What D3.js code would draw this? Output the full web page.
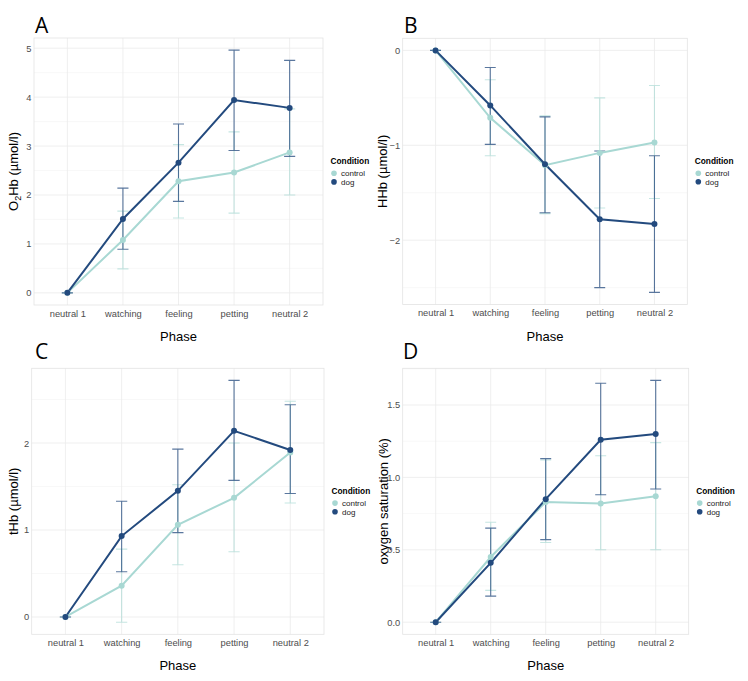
<!DOCTYPE html>
<html>
<head>
<meta charset="utf-8">
<script src="https://cdn.jsdelivr.net/npm/d3@7/dist/d3.min.js"></script>
<style>
  html, body { margin: 0; padding: 0; background: #fff; }
  svg { display: block; }
</style>
</head>
<body>
<svg id="chart" width="748" height="681"></svg>
<script>
// ---------- DATA ----------
const phases = ["neutral 1", "watching", "feeling", "petting", "neutral 2"];
const conditions = ["control", "dog"];

// Panel A: O2Hb
const aControlMean = [0, 1.08, 2.28, 2.46, 2.87];
const aControlLo   = [0, 0.49, 1.53, 1.63, 2.00];
const aControlHi   = [0, 1.67, 3.03, 3.29, 3.76];
const aDogMean     = [0, 1.51, 2.66, 3.94, 3.78];
const aDogLo       = [0, 0.89, 1.87, 2.91, 2.79];
const aDogHi       = [0, 2.14, 3.45, 4.96, 4.75];
const aTicks = [0, 1, 2, 3, 4, 5];

// Panel B: HHb
const bControlMean = [0, -0.71, -1.21, -1.08, -0.97];
const bControlLo   = [0, -1.11, -1.72, -1.66, -1.56];
const bControlHi   = [0, -0.31, -0.69, -0.50, -0.37];
const bDogMean     = [0, -0.58, -1.20, -1.78, -1.83];
const bDogLo       = [0, -0.99, -1.71, -2.50, -2.55];
const bDogHi       = [0, -0.18, -0.70, -1.06, -1.11];
const bTicks = [-2, -1, 0];

// Panel C: tHb
const cControlMean = [0, 0.36, 1.06, 1.37, 1.89];
const cControlLo   = [0, -0.06, 0.60, 0.75, 1.31];
const cControlHi   = [0, 0.78, 1.52, 2.00, 2.48];
const cDogMean     = [0, 0.93, 1.45, 2.14, 1.92];
const cDogLo       = [0, 0.52, 0.97, 1.57, 1.42];
const cDogHi       = [0, 1.33, 1.93, 2.72, 2.44];
const cTicks = [0, 1, 2];

// Panel D: oxygen saturation
const dControlMean = [0, 0.45, 0.83, 0.82, 0.87];
const dControlLo   = [0, 0.22, 0.55, 0.50, 0.50];
const dControlHi   = [0, 0.69, 1.12, 1.15, 1.24];
const dDogMean     = [0, 0.41, 0.85, 1.26, 1.30];
const dDogLo       = [0, 0.18, 0.57, 0.88, 0.92];
const dDogHi       = [0, 0.65, 1.13, 1.65, 1.67];
const dTicks = [0, 0.5, 1.0, 1.5];

// ---------- STYLE ----------
const colors = { control: "#a8d8d3", dog: "#234a7e" };
const FONT = "'Liberation Sans', Arial, Helvetica, sans-serif";

const panels = [
  { letter: "A", x0: 34, x1: 323, y0: 38, y1: 305, ytitle: "O2Hb", ticks: aTicks, fmt: d3.format("d"),
    series: { control: [aControlMean, aControlLo, aControlHi], dog: [aDogMean, aDogLo, aDogHi] },
    letterX: 35, letterY: 33, ytX: 17.5, xtY: 341 },
  { letter: "B", x0: 402.7, x1: 687.3, y0: 38.3, y1: 304.5, ytitle: "HHb (µmol/l)", ticks: bTicks, fmt: d3.format("d"),
    series: { control: [bControlMean, bControlLo, bControlHi], dog: [bDogMean, bDogLo, bDogHi] },
    letterX: 404, letterY: 33, ytX: 387, xtY: 341 },
  { letter: "C", x0: 31.7, x1: 324, y0: 368.3, y1: 634.3, ytitle: "tHb (µmol/l)", ticks: cTicks, fmt: d3.format("d"),
    series: { control: [cControlMean, cControlLo, cControlHi], dog: [cDogMean, cDogLo, cDogHi] },
    letterX: 35, letterY: 358.5, ytX: 17.5, xtY: 670 },
  { letter: "D", x0: 402.7, x1: 688.7, y0: 368.3, y1: 634.3, ytitle: "oxygen saturation (%)", ticks: dTicks, fmt: d3.format(".1f"),
    series: { control: [dControlMean, dControlLo, dControlHi], dog: [dDogMean, dDogLo, dDogHi] },
    letterX: 403, letterY: 358.5, ytX: 388, xtY: 670 }
];

const svg = d3.select("#chart");
svg.append("rect").attr("width", 748).attr("height", 681).attr("fill", "#fff");

panels.forEach(p => {
  const g = svg.append("g");

  // scales
  const x = d3.scalePoint().domain(phases).range([p.x0, p.x1]).padding(0.6);
  const allVals = [].concat(...conditions.map(c => p.series[c][1].concat(p.series[c][2])));
  const ext = d3.extent(allVals);
  const pad = (ext[1] - ext[0]) * 0.05;
  const y = d3.scaleLinear().domain([ext[0] - pad, ext[1] + pad]).range([p.y1, p.y0]);

  // minor grid
  const step = p.ticks[1] - p.ticks[0];
  const minor = [];
  for (let v = p.ticks[0] - step / 2; v <= ext[1] + pad; v += step) {
    if (v >= ext[0] - pad) minor.push(v);
  }
  g.selectAll(".minor").data(minor).join("line")
    .attr("x1", p.x0).attr("x2", p.x1)
    .attr("y1", d => y(d)).attr("y2", d => y(d))
    .attr("stroke", "#f4f4f4").attr("stroke-width", 0.6);

  // major grid
  g.selectAll(".hmajor").data(p.ticks).join("line")
    .attr("x1", p.x0).attr("x2", p.x1)
    .attr("y1", d => y(d)).attr("y2", d => y(d))
    .attr("stroke", "#ebebeb").attr("stroke-width", 0.8);
  g.selectAll(".vmajor").data(phases).join("line")
    .attr("x1", d => x(d)).attr("x2", d => x(d))
    .attr("y1", p.y0).attr("y2", p.y1)
    .attr("stroke", "#ebebeb").attr("stroke-width", 0.8);

  // border
  g.append("rect").attr("x", p.x0).attr("y", p.y0)
    .attr("width", p.x1 - p.x0).attr("height", p.y1 - p.y0)
    .attr("fill", "none").attr("stroke", "#e3e3e3").attr("stroke-width", 0.8);

  // axes (labels only)
  const yAxis = d3.axisLeft(y).tickValues(p.ticks).tickFormat(p.fmt).tickSize(0).tickPadding(2.5);
  const ya = g.append("g").attr("transform", `translate(${p.x0},0)`).call(yAxis);
  ya.select(".domain").remove();
  ya.selectAll("text").attr("fill", "#4d4d4d").style("font-family", FONT).style("font-size", "9.3px");

  const xAxis = d3.axisBottom(x).tickSize(0).tickPadding(5);
  const xa = g.append("g").attr("transform", `translate(0,${p.y1})`).call(xAxis);
  xa.select(".domain").remove();
  xa.selectAll("text").attr("fill", "#4d4d4d").style("font-family", FONT).style("font-size", "9.3px");

  // error bars
  const capHalf = x.step() * 0.1;
  conditions.forEach(c => {
    const [m, lo, hi] = p.series[c];
    const eg = g.append("g").attr("stroke", colors[c])
      .attr("stroke-opacity", c === "dog" ? 0.75 : 0.65).attr("stroke-width", 1.1).attr("fill", "none");
    phases.forEach((ph, i) => {
      const cx = x(ph);
      eg.append("path").attr("d",
        `M${cx - capHalf},${y(hi[i])}H${cx + capHalf}M${cx},${y(hi[i])}V${y(lo[i])}M${cx - capHalf},${y(lo[i])}H${cx + capHalf}`);
    });
  });

  // lines
  const line = d3.line().x((d, i) => x(phases[i])).y(d => y(d));
  conditions.forEach(c => {
    g.append("path").datum(p.series[c][0]).attr("d", line)
      .attr("fill", "none").attr("stroke", colors[c]).attr("stroke-width", 2);
  });
  // points
  conditions.forEach(c => {
    g.selectAll(".pt-" + c).data(p.series[c][0]).join("circle")
      .attr("cx", (d, i) => x(phases[i])).attr("cy", d => y(d))
      .attr("r", 3).attr("fill", colors[c]);
  });

  // panel letter
  svg.append("text").attr("x", p.letterX).attr("y", p.letterY).text(p.letter)
    .style("font-family", "'Open Sans', sans-serif").style("font-size", "21px").attr("fill", "#000");

  // x title
  svg.append("text").attr("x", (p.x0 + p.x1) / 2).attr("y", p.xtY).attr("text-anchor", "middle")
    .text("Phase").style("font-family", FONT).style("font-size", "13px").attr("fill", "#000");

  // y title
  const cy = (p.y0 + p.y1) / 2;
  const yt = svg.append("text").attr("transform", `translate(${p.ytX},${cy}) rotate(-90)`)
    .attr("text-anchor", "middle").style("font-family", FONT).style("font-size", "13px").attr("fill", "#000");
  if (p.ytitle === "O2Hb") {
    yt.append("tspan").text("O");
    yt.append("tspan").text("2").style("font-size", "9px").attr("dy", 3);
    yt.append("tspan").text("Hb (µmol/l)").attr("dy", -3);
  } else {
    yt.text(p.ytitle);
  }

  // legend
  const lx = p.x1 + 7.5;
  svg.append("text").attr("x", lx).attr("y", cy - 10).attr("dy", "0.35em").text("Condition")
    .style("font-family", FONT).style("font-size", "8.3px").style("font-weight", "bold").attr("fill", "#000");
  conditions.forEach((c, i) => {
    const iy = cy + 1.8 + i * 8.6;
    svg.append("circle").attr("cx", lx + 3.5).attr("cy", iy).attr("r", 2.8).attr("fill", colors[c]);
    svg.append("text").attr("x", lx + 10.5).attr("y", iy).attr("dy", "0.35em").text(c)
      .style("font-family", FONT).style("font-size", "8px").attr("fill", "#1a1a1a");
  });
});
</script>
</body>
</html>
